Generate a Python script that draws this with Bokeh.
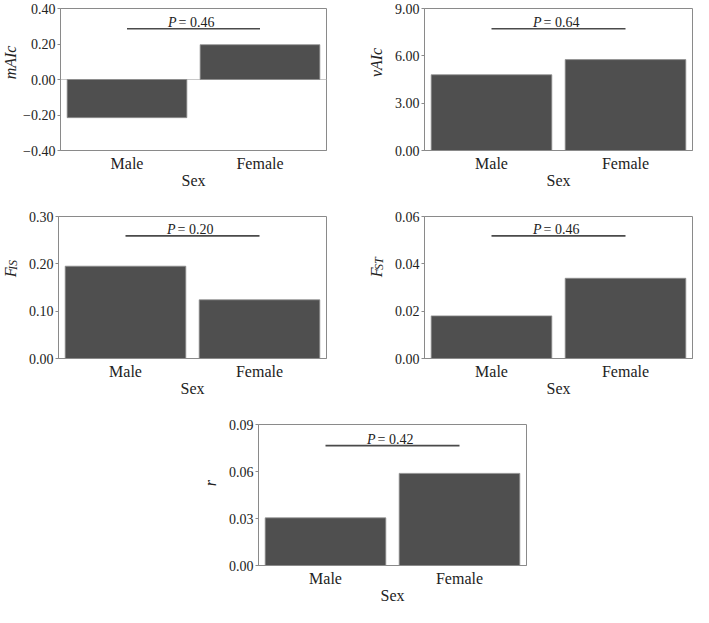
import math
from bokeh.plotting import figure
from bokeh.models import Label, FixedTicker, Span, Spacer
from bokeh.core.properties import value
from bokeh.layouts import column, row
from bokeh.embed import file_html
from bokeh.resources import INLINE

# ---------------- data ----------------
sexes = ["Male", "Female"]

mAIc_vals = [-0.215, 0.196]
vAIc_vals = [4.80, 5.76]
FIS_vals = [0.195, 0.124]
FST_vals = [0.0180, 0.0339]
r_vals = [0.0304, 0.0588]

p_texts = ["0.46", "0.64", "0.20", "0.46", "0.42"]
p_bar_levels = [0.286, 7.72, 0.259, 0.0518, 0.0765]

mAIc_ticks = [-0.4, -0.2, 0.0, 0.2, 0.4]
mAIc_tick_labels = ["\u22120.40", "\u22120.20", "0.00", "0.20", "0.40"]
vAIc_ticks = [0, 3, 6, 9]
vAIc_tick_labels = ["0.00", "3.00", "6.00", "9.00"]
FIS_ticks = [0, 0.1, 0.2, 0.3]
FIS_tick_labels = ["0.00", "0.10", "0.20", "0.30"]
FST_ticks = [0, 0.02, 0.04, 0.06]
FST_tick_labels = ["0.00", "0.02", "0.04", "0.06"]
r_ticks = [0, 0.03, 0.06, 0.09]
r_tick_labels = ["0.00", "0.03", "0.06", "0.09"]

x_label = "Sex"

# ---------------- style ----------------
FONT = "Liberation Serif"
TXT = "#222222"
FRAME = "#8a8a8a"
BAR = "#4f4f4f"
FH = 142  # frame height
FW = 268  # frame width
BL = 38   # left border of each panel
SW = 20   # width of the y-label strip


def label_strip(main, sub, height, b_bottom):
    s = figure(width=SW, height=height, x_range=(0, SW), y_range=(0, height),
               x_axis_type=None, y_axis_type=None, output_backend="svg",
               toolbar_location=None, min_border=0)
    s.outline_line_color = None
    s.xgrid.visible = False
    s.ygrid.visible = False
    ymid = b_bottom + FH / 2
    if sub is None:
        s.text(x=[10], y=[ymid], text=[main], angle=math.pi / 2,
               text_align="center", text_baseline="middle",
               text_font=value(FONT), text_font_style="italic",
               text_font_size="16px", text_color=TXT)
    else:
        s.text(x=[9.5], y=[ymid - 10], text=[main], angle=math.pi / 2,
               text_align="left", text_baseline="middle",
               text_font=value(FONT), text_font_style="italic",
               text_font_size="16px", text_color=TXT)
        s.text(x=[12.5], y=[ymid + 0.5], text=[sub], angle=math.pi / 2,
               text_align="left", text_baseline="middle",
               text_font=value(FONT), text_font_style="italic",
               text_font_size="12px", text_color=TXT)
    return s


def panel(vals, ticks, tick_labels, ptxt, plevel, width, b_right, b_bottom,
          zero_line=False):
    y0, y1 = ticks[0], ticks[-1]
    height = 8 + FH + b_bottom
    p = figure(x_range=sexes, y_range=(y0, y1), width=width, height=height,
               output_backend="svg", toolbar_location=None,
               min_border_left=BL, min_border_right=b_right,
               min_border_top=8, min_border_bottom=b_bottom)
    p.xgrid.visible = False
    p.ygrid.visible = False
    p.outline_line_color = FRAME
    p.outline_line_width = 1
    p.background_fill_color = "white"
    p.border_fill_color = "white"

    if zero_line:
        p.add_layout(Span(location=0, dimension="width", line_color="#c8c8c8",
                          line_width=1, level="underlay"))

    p.vbar(x=sexes, top=vals, bottom=0, width=0.9, fill_color=BAR,
           line_color="#8f8f8f", line_width=0.8)

    p.segment(x0=["Male"], y0=[plevel], x1=["Female"], y1=[plevel],
              line_color="#4a4a4a", line_width=1.6)
    p.add_layout(Label(x=1.0, y=plevel, text="P", x_offset=-17, y_offset=6,
                       text_align="right", text_baseline="alphabetic",
                       text_font=FONT, text_font_style="italic",
                       text_font_size="14px", text_color=TXT))
    p.add_layout(Label(x=1.0, y=plevel, text="= " + ptxt, x_offset=-15, y_offset=6,
                       text_align="left", text_baseline="alphabetic",
                       text_font=FONT, text_font_size="14px", text_color=TXT))

    xa = p.xaxis[0]
    xa.axis_label = x_label
    xa.axis_label_text_font = FONT
    xa.axis_label_text_font_style = "normal"
    xa.axis_label_text_font_size = "16px"
    xa.axis_label_text_color = TXT
    xa.axis_label_standoff = -3
    xa.major_label_text_font = FONT
    xa.major_label_text_font_size = "16px"
    xa.major_label_text_color = TXT
    xa.major_label_standoff = -2
    xa.major_tick_line_color = None
    xa.minor_tick_line_color = None
    xa.axis_line_color = FRAME

    ya = p.yaxis[0]
    ya.ticker = FixedTicker(ticks=ticks)
    ya.major_label_overrides = {t: l for t, l in zip(ticks, tick_labels)}
    ya.major_label_text_font = FONT
    ya.major_label_text_font_size = "14px"
    ya.major_label_text_color = TXT
    ya.major_label_standoff = 2
    ya.major_tick_in = 0
    ya.major_tick_out = 3
    ya.major_tick_line_color = FRAME
    ya.minor_tick_line_color = None
    ya.axis_line_color = FRAME
    return p


BB12 = 58
BB3 = 40
H12 = 8 + FH + BB12
H3 = 8 + FH + BB3
WL = 346
WR = 693 - SW - WL - SW
W5 = 320

p1 = panel(mAIc_vals, mAIc_ticks, mAIc_tick_labels, p_texts[0], p_bar_levels[0],
           WL, WL - BL - FW, BB12, zero_line=True)
p2 = panel(vAIc_vals, vAIc_ticks, vAIc_tick_labels, p_texts[1], p_bar_levels[1],
           WR, WR - BL - FW, BB12)
p3 = panel(FIS_vals, FIS_ticks, FIS_tick_labels, p_texts[2], p_bar_levels[2],
           WL, WL - BL - FW, BB12)
p4 = panel(FST_vals, FST_ticks, FST_tick_labels, p_texts[3], p_bar_levels[3],
           WR, WR - BL - FW, BB12)
p5 = panel(r_vals, r_ticks, r_tick_labels, p_texts[4], p_bar_levels[4],
           W5, W5 - BL - FW, BB3)

s1 = label_strip("mAIc", None, H12, BB12)
s2 = label_strip("vAIc", None, H12, BB12)
s3 = label_strip("F", "IS", H12, BB12)
s4 = label_strip("F", "ST", H12, BB12)
s5 = label_strip("r", None, H3, BB3)

layout = column(row(s1, p1, s2, p2),
                row(s3, p3, s4, p4),
                row(Spacer(width=200, height=10), s5, p5))

open("out.html", "w").write(file_html(layout, INLINE))
